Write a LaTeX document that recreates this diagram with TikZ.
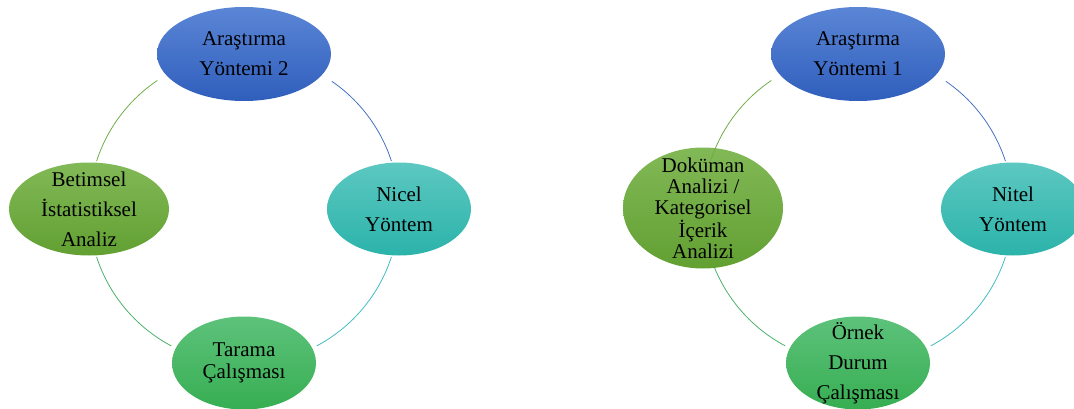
\documentclass[tikz,border=0pt]{standalone}
\usepackage{fontspec}
\setmainfont{Liberation Serif}
\usetikzlibrary{shapes.geometric}
\definecolor{blueT}{HTML}{5B86D6}
\definecolor{blueB}{HTML}{2F5EBC}
\definecolor{tealT}{HTML}{5CC8C1}
\definecolor{tealB}{HTML}{2BB3AA}
\definecolor{lgT}{HTML}{82B957}
\definecolor{lgB}{HTML}{62A032}
\definecolor{gT}{HTML}{5DC27B}
\definecolor{gB}{HTML}{37AE52}
\definecolor{lnLG}{HTML}{70AD47}
\definecolor{lnB}{HTML}{4472C4}
\definecolor{lnT}{HTML}{45BCC0}
\definecolor{lnG}{HTML}{4CB06C}
\tikzset{
  oval/.style={ellipse, inner sep=0pt},
  txt/.style={inner sep=0pt, align=center, text=black,
    font=\fontsize{21}{30}\selectfont},
  bluefill/.style={top color=blueT, bottom color=blueB},
  tealfill/.style={top color=tealT, bottom color=tealB},
  lgfill/.style={top color=lgT, bottom color=lgB},
  gfill/.style={top color=gT, bottom color=gB},
  conn/.style={line width=0.8pt},
}
\begin{document}
\begin{tikzpicture}[x=1pt,y=1pt]
\useasboundingbox (0,0) rectangle (1074,408);
% ---------- left cycle ----------
\coordinate (cL) at (244,199);
\coordinate (L1) at ([shift={(124:155)}]cL);
\coordinate (L2) at ([shift={(55.5:155)}]cL);
\coordinate (L3) at ([shift={(-18:155)}]cL);
\coordinate (L4) at ([shift={(198:155)}]cL);
\draw[conn, lnLG] (L1) arc[start angle=124, end angle=162, radius=155];
\draw[conn, lnB] (L2) arc[start angle=55.5, end angle=18, radius=155];
\draw[conn, lnT] (L3) arc[start angle=-18, end angle=-62, radius=155];
\draw[conn, lnG] (L4) arc[start angle=198, end angle=242, radius=155];
\node[oval, bluefill, minimum width=174pt, minimum height=94pt] (a2) at (244,354) {};
\node[txt] (a2t) at (a2) {Araştırma\\Yöntemi 2};
\node[oval, lgfill, minimum width=160pt, minimum height=93pt] (bet) at (89,209-10) {};
\node[txt] (bett) at (bet) {Betimsel\\İstatistiksel\\Analiz};
\node[oval, tealfill, minimum width=144pt, minimum height=93pt] (nic) at (399,199) {};
\node[txt] (nict) at (nic) {Nicel\\Yöntem};
\node[oval, gfill, minimum width=144pt, minimum height=93pt] (tar) at (244,45) {};
\node[txt, font=\fontsize{21}{22}\selectfont] (tart) at (tar) {Tarama\\Çalışması};
% ---------- right cycle ----------
\coordinate (cR) at (858,199);
\coordinate (R1) at ([shift={(124:155)}]cR);
\coordinate (R2) at ([shift={(55.5:155)}]cR);
\coordinate (R3) at ([shift={(-18:155)}]cR);
\coordinate (R4) at ([shift={(198:155)}]cR);
\draw[conn, lnG] (R4) arc[start angle=198, end angle=242, radius=155];
\node[oval, bluefill, minimum width=174pt, minimum height=94pt] (a1) at (858,354) {};
\node[txt] (a1t) at (a1) {Araştırma\\Yöntemi 1};
\node[oval, lgfill, minimum width=160pt, minimum height=121pt] (dok) at (703,200) {};
\node[txt, font=\fontsize{21}{21}\selectfont] (dokt) at (dok) {Doküman\\Analizi /\\Kategorisel\\İçerik\\Analizi};
\node[oval, tealfill, minimum width=144pt, minimum height=93pt] (nit) at (1013,199) {};
\node[txt] (nitt) at (nit) {Nitel\\Yöntem};
\node[oval, gfill, minimum width=144pt, minimum height=93pt] (orn) at (858,45) {};
\node[txt] (ornt) at (orn) {Örnek\\Durum\\Çalışması};
\draw[conn, lnLG] (R1) arc[start angle=124, end angle=162, radius=155];
\draw[conn, lnB] (R2) arc[start angle=55.5, end angle=18, radius=155];
\draw[conn, lnT] (R3) arc[start angle=-18, end angle=-62, radius=155];
\end{tikzpicture}
\end{document}
